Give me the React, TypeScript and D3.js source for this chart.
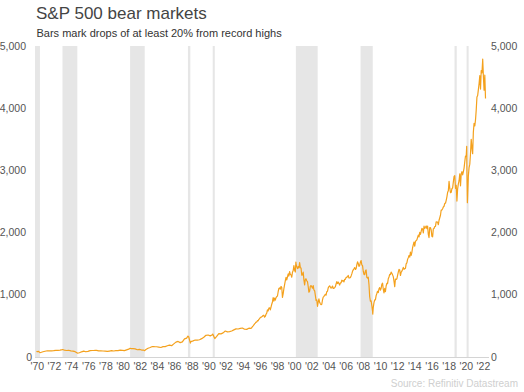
import React from "react";
import * as d3 from "d3";

// ---- Data ----
// Quarter-end S&P 500 closes, starting Dec 1969 (decimal year 1970.0), every quarter
const quarterlyEarly: number[] = [
  92.1,
  89.6, 72.7, 84.2, 92.2,
  100.3, 99.0, 98.3, 102.1,
  107.2, 107.1, 110.6, 118.1,
  111.5, 104.3, 108.4, 97.6,
  94.0, 86.0, 63.5, 68.6,
  83.4, 95.2, 83.9, 90.2,
  102.8, 104.3, 105.2, 107.5,
  98.4, 100.5, 96.5, 95.1,
  89.2, 95.5, 102.5, 96.1,
  101.6, 102.9, 109.3, 107.9,
  102.1, 114.2, 125.5, 135.8,
  136.0, 131.2, 116.2, 122.6,
  112.0, 109.6, 120.4, 140.6,
  153.0, 168.1, 166.1, 164.9,
  159.2, 153.2, 166.1, 167.2,
  180.7, 191.9, 182.1, 211.3,
  238.9, 250.8, 231.3, 242.2,
  291.7, 304.0, 321.8, 247.1,
  258.9, 273.5, 271.9, 277.7,
  294.9, 318.0, 349.2, 353.4,
  339.9, 358.0, 306.1, 330.2,
  375.2, 371.2, 387.9, 417.1,
  403.7, 408.1, 418.5, 435.7,
  451.7, 450.5, 458.9, 466.5,
  445.8, 444.3, 462.7, 459.3,
];

// Month-end closes from Jan 1995
const monthlyLate: number[] = [
  470.4, 487.4, 500.7, 514.7, 533.4, 544.8, 562.1, 561.9, 584.4, 581.5, 605.4, 615.9,
  636.0, 640.4, 645.5, 654.2, 669.1, 670.6, 639.9, 652.0, 687.3, 705.3, 757.0, 740.7,
  786.2, 790.8, 757.1, 801.3, 848.3, 885.1, 954.3, 899.5, 947.3, 914.6, 955.4, 970.4,
  980.3, 1049.3, 1101.8, 1111.8, 1090.8, 1133.8, 1120.7, 957.3, 1017.0, 1098.7, 1163.6, 1229.2,
  1279.6, 1238.3, 1286.4, 1335.2, 1301.8, 1372.7, 1328.7, 1320.4, 1282.7, 1362.9, 1388.9, 1469.3,
  1394.5, 1366.4, 1498.6, 1452.4, 1420.6, 1454.6, 1430.8, 1517.7, 1436.5, 1429.4, 1315.2, 1320.3,
  1366.0, 1239.9, 1160.3, 1249.5, 1255.8, 1224.4, 1211.2, 1133.6, 1040.9, 1059.8, 1139.5, 1148.1,
  1130.2, 1106.7, 1147.4, 1076.9, 1067.1, 989.8, 911.6, 916.1, 815.3, 885.8, 936.3, 879.8,
  855.7, 841.2, 848.2, 916.9, 963.6, 974.5, 990.3, 1008.0, 996.0, 1050.7, 1058.2, 1111.9,
  1131.1, 1144.9, 1126.2, 1107.3, 1120.7, 1140.8, 1101.7, 1104.2, 1114.6, 1130.2, 1173.8, 1211.9,
  1181.3, 1203.6, 1180.6, 1156.9, 1191.5, 1191.3, 1234.2, 1220.3, 1228.8, 1207.0, 1249.5, 1248.3,
  1280.1, 1280.7, 1294.8, 1310.6, 1270.1, 1270.2, 1276.7, 1303.8, 1335.9, 1377.9, 1400.6, 1418.3,
  1438.2, 1406.8, 1420.9, 1482.4, 1530.6, 1503.4, 1455.3, 1474.0, 1526.8, 1549.4, 1481.1, 1468.4,
  1378.6, 1330.6, 1322.7, 1385.6, 1400.4, 1280.0, 1267.4, 1282.8, 1166.4, 968.8, 896.2, 903.3,
  825.9, 735.1, 797.9, 872.8, 919.1, 919.3, 987.5, 1020.6, 1057.1, 1036.2, 1095.6, 1115.1,
  1073.9, 1104.5, 1169.4, 1186.7, 1089.4, 1030.7, 1101.6, 1049.3, 1141.2, 1183.3, 1180.6, 1257.6,
  1286.1, 1327.2, 1325.8, 1363.6, 1345.2, 1320.6, 1292.3, 1218.9, 1131.4, 1253.3, 1247.0, 1257.6,
  1312.4, 1365.7, 1408.5, 1397.9, 1310.3, 1362.2, 1379.3, 1406.6, 1440.7, 1412.2, 1416.2, 1426.2,
  1498.1, 1514.7, 1569.2, 1597.6, 1630.7, 1606.3, 1685.7, 1633.0, 1681.6, 1756.5, 1805.8, 1848.4,
  1782.6, 1859.5, 1872.3, 1884.0, 1923.6, 1960.2, 1930.7, 2003.4, 1972.3, 2018.1, 2067.6, 2058.9,
  1995.0, 2104.5, 2067.9, 2085.5, 2107.4, 2063.1, 2103.8, 1972.2, 1920.0, 2079.4, 2080.4, 2043.9,
  1940.2, 1932.2, 2059.7, 2065.3, 2097.0, 2098.9, 2173.6, 2171.0, 2168.3, 2126.2, 2199.0, 2238.8,
  2278.9, 2363.6, 2362.7, 2384.2, 2411.8, 2423.4, 2470.3, 2471.7, 2519.4, 2575.3, 2647.6, 2673.6,
  2823.8, 2713.8, 2640.9, 2648.1, 2705.3, 2718.4, 2816.3, 2901.5, 2914.0, 2711.7, 2760.2, 2506.9,
  2704.1, 2784.5, 2834.4, 2945.8, 2752.1, 2941.8, 2980.4, 2926.5, 2976.7, 3037.6, 3141.0, 3230.8,
  3225.5, 2954.2, 2584.6, 2912.4, 3044.3, 3100.3, 3271.1, 3500.3, 3363.0, 3270.0, 3621.6, 3756.1,
  3714.2, 3811.2, 3972.9, 4181.2, 4204.1, 4297.5, 4395.3, 4522.7, 4307.5, 4605.4, 4567.0, 4766.2,
  4515.6, 4290.0, 4530.4, 4155.0,
];

// Intra-period highs and lows (decimal year, value)
const extremeDates: number[] = [1970.08, 1970.4, 1973.03, 1974.76, 1980.91, 1982.61, 1987.65, 1987.93, 1990.54, 1990.78, 2000.23, 2009.19, 2020.14, 2020.22, 2022.005];
const extremeValues: number[] = [85.0, 69.3, 120.2, 62.3, 140.5, 102.4, 336.8, 223.9, 369.0, 295.5, 1527, 690, 3386, 2480, 4790];

// Bear markets (start, end as decimal years)
const bearStarts: number[] = [1968.91, 1973.03, 1980.91, 1987.65, 1990.54, 2000.23, 2007.77, 2018.72, 2020.13];
const bearEnds: number[] = [1970.4, 1974.76, 1982.61, 1987.93, 1990.78, 2002.77, 2009.19, 2018.98, 2020.22];

const xTickYears: number[] = d3.range(1970, 2023, 2);
const yTicks: number[] = [0, 1000, 2000, 3000, 4000, 5000];

const TITLE = "S&P 500 bear markets";
const SUBTITLE = "Bars mark drops of at least 20% from record highs";
const SOURCE = "Source: Refinitiv Datastream";

export default function App() {
  const W = 524, H = 392;
  const left = 35, right = 489;
  const x = d3.scaleLinear().domain([1970, 2022]).range([36.5, 36.5 + 52 * 8.58]);
  const y = d3.scaleLinear().domain([0, 5000]).range([357, 46]);

  const pts: { t: number; v: number }[] = [];
  quarterlyEarly.forEach((v, i) => pts.push({ t: 1970 + 0.25 * i, v }));
  monthlyLate.forEach((v, i) => pts.push({ t: 1995 + (i + 1) / 12, v }));
  extremeDates.forEach((t, i) => pts.push({ t, v: extremeValues[i] }));
  pts.sort((a, b) => a.t - b.t);
  const data = pts;

  const line = d3
    .line<{ t: number; v: number }>()
    .x((d) => x(d.t))
    .y((d) => y(d.v));

  const font = "'Liberation Sans', Arial, Helvetica, sans-serif";

  return (
    <svg
      width={W}
      height={H}
      style={{ position: "absolute", left: 0, top: 0, background: "#fff" }}
      fontFamily={font}
    >
      <defs>
        <clipPath id="plotClip">
          <rect x={left} y={0} width={right - left} height={H} />
        </clipPath>
      </defs>
      <text x={36} y={19} fontSize={17} fill="#444">{TITLE}</text>
      <text x={36.5} y={37} fontSize={11} fill="#333">{SUBTITLE}</text>

      <g clipPath="url(#plotClip)">
        {bearStarts.map((s, i) => {
          const x0 = x(s);
          const x1 = x(bearEnds[i]);
          const w = Math.max(x1 - x0, 2);
          return (
            <rect key={i} x={x0} y={y(5000)} width={w} height={y(0) - y(5000)} fill="#e6e6e6" />
          );
        })}
      </g>

      <line x1={left} x2={right} y1={357.5} y2={357.5} stroke="#d4d4d4" strokeWidth={1} />

      <path d={line(data) || ""} fill="none" stroke="#f4a11d" strokeWidth={1.2} strokeLinejoin="round" />

      {yTicks.map((t) => (
        <text
          key={"l" + t}
          x={t === 0 ? 32 : 26}
          y={y(t)}
          dy="0.35em"
          textAnchor="end"
          fontSize={10.5}
          fill="#555"
        >
          {d3.format(",")(t)}
        </text>
      ))}
      {yTicks.map((t) => (
        <text key={"r" + t} x={491} y={y(t)} dy="0.35em" textAnchor="start" fontSize={10.5} fill="#555">
          {d3.format(",")(t)}
        </text>
      ))}
      {xTickYears.map((yr) => (
        <text key={yr} x={x(yr) + 0.8} y={370} textAnchor="middle" fontSize={10.5} fill="#555">
          {"'" + String(yr).slice(2)}
        </text>
      ))}

      <text x={518} y={387} textAnchor="end" fontSize={10} fill="#cfcfcf">{SOURCE}</text>
    </svg>
  );
}
